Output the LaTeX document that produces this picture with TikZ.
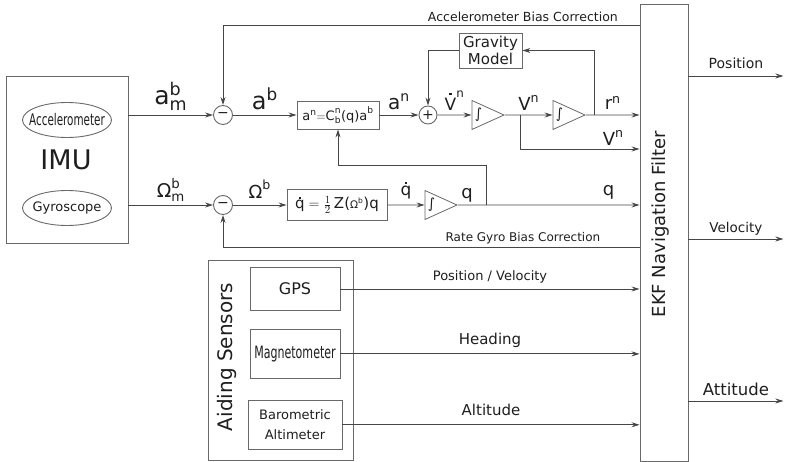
\documentclass[tikz,border=0pt]{standalone}
\usepackage{amsmath}
\usepackage{fontspec}
\setmainfont{DejaVu Sans}
\newfontfamily\narrowfont[FakeStretch=0.65]{DejaVu Sans}
\usetikzlibrary{arrows.meta, positioning, shapes.geometric, calc}

\definecolor{wire}{RGB}{70,70,70}
\definecolor{frame}{RGB}{105,105,105}
\definecolor{ink}{RGB}{30,30,30}
\newcommand{\fsz}[1]{\fontsize{#1}{#1}\selectfont}
% time derivative dot centred over a letter
\newcommand{\tdot}[2]{\ooalign{\hidewidth\raisebox{#2}{\rule{0.13em}{0.13em}}\hidewidth\cr#1\cr}}

\begin{document}
\begin{tikzpicture}[x=1pt, y=-1pt,
    box/.style={draw=frame, line width=0.9pt, inner sep=0pt, align=center, text=ink},
    sensor/.style={ellipse, draw=frame, line width=0.9pt, minimum width=89pt,
                   minimum height=35pt},
    sum/.style={circle, draw=frame, line width=0.9pt, minimum size=19pt,
                inner sep=0pt, font=\fsz{14}, text=ink},
    integ/.style={isosceles triangle, isosceles triangle stretches, draw=frame,
                  line width=0.8pt, minimum height=32pt, minimum width=29pt,
                  inner sep=0pt, font=\fsz{14}, text=ink},
    wire/.style={draw=wire, line width=0.9pt},
    sig/.style={inner sep=1pt, text=ink},
    note/.style={inner sep=1pt, text=ink},
    >={Stealth[length=8pt, width=5pt]}
  ]

  \useasboundingbox (0,0) rectangle (785,462);

  % IMU with its two sensors
  \node[box, minimum width=122pt, minimum height=167pt] (imu) at (67,159.5) {};
  \node[font=\fsz{27}, text=ink] (imutxt) at (66,160) {IMU};
  \node[sensor, label={[font=\narrowfont\fsz{16}, text=ink]center:Accelerometer}] (acc) at (67,120) {};
  \node[sensor, label={[font=\fsz{13}, text=ink]center:Gyroscope}] (gyro) at (67,208) {};

  % Accelerometer chain
  \node[sum] (suma) at (223,115) {−};
  \node[box, minimum width=82pt, minimum height=28pt, font=\fsz{13}] (rotm) at (338,115)
    {$\text{a}^{\text{n}}{=}\text{C}^{\text{n}}_{\text{b}}\text{(q)a}^{\text{b}}$};
  \node[sum, minimum size=18pt] (sumg) at (428,115) {+};
  \node[box, minimum width=63pt, minimum height=35pt, font=\fontsize{15}{17}\selectfont]
    (grav) at (490.5,50.5) {Gravity\\Model};
  \node[integ, anchor=apex] (inta) at (505,115) {∫};
  \node[integ, anchor=apex] (intb) at (586,115) {∫};

  % Gyro chain
  \node[sum] (sumb) at (223,205) {−};
  \node[box, minimum width=100pt, minimum height=31pt, font=\fsz{15}] (qkin) at (337,205)
    {$\text{\tdot{q}{0.66em}}=\tfrac{1}{2}\,\text{Z(}{\scriptstyle\text{Ω}^{\text{b}}}\text{)q}$};
  \node[integ, anchor=apex] (intc) at (458,205) {∫};

  % Navigation filter
  \node[box, minimum width=48pt, minimum height=457pt] (ekf) at (664,232.5) {};
  \node[rotate=90, font=\fsz{18}, text=ink] (ekftxt) at (661,224) {EKF Navigation Filter};

  % Aiding sensors
  \node[box, minimum width=145pt, minimum height=200pt] (aid) at (280.5,360) {};
  \node[rotate=90, font=\fsz{20}, text=ink] (aidtxt) at (227,357) {Aiding Sensors};
  \node[box, minimum width=90pt, minimum height=43pt, font=\fsz{16}] (gps) at (295,289) {GPS};
  \node[box, minimum width=90pt, minimum height=49pt, font=\narrowfont\fsz{17},
        below=18pt of gps] (mag) {Magnetometer};
  \node[box, minimum width=94pt, minimum height=49pt, font=\fontsize{13}{20}\selectfont,
        below=21pt of mag] (baro) {Barometric\\Altimeter};

  % Top row signals
  \draw[wire, ->] (imu.east |- suma) -- node[sig, above=3pt, font=\fsz{25}]
    {$\text{a}^{\text{b}}_{\text{m}}$} (suma);
  \draw[wire, ->] (suma) -- node[sig, above=4pt, font=\fsz{24}] {$\text{a}^{\text{b}}$} (rotm);
  \draw[wire, ->] (rotm) -- node[sig, above=4pt, font=\fsz{20}] {$\text{a}^{\text{n}}$} (sumg);
  \draw[wire, ->] (sumg) -- node[sig, above=3pt, font=\fsz{17}]
    {$\text{\tdot{V}{0.9em}}^{\text{n}}$} (inta);
  \draw[wire, ->] (inta) -- node[sig, above=3pt, font=\fsz{18}] {$\text{V}^{\text{n}}$} (intb);
  \draw[wire, ->] (intb) -- node[sig, above=4pt, font=\fsz{18}] {$\text{r}^{\text{n}}$} (intb -| ekf.west);
  \coordinate (vtap) at (520,115);
  \draw[wire, ->] (vtap) |- node[pos=0.89, sig, above=2pt, font=\fsz{18}]
    {$\text{V}^{\text{n}}$} (ekf.west |- 0,149);
  \coordinate (rtap) at (594,115);
  \draw[wire, ->] (rtap) |- (grav.east);
  \draw[wire, ->] (grav.west) -| (sumg);

  % Gyro row signals
  \draw[wire, ->] (imu.east |- sumb) -- node[sig, above=2pt, font=\fsz{19}]
    {$\text{Ω}^{\text{b}}_{\text{m}}$} (sumb);
  \draw[wire, ->] (sumb) -- node[sig, above=5pt, font=\fsz{18}] {$\text{Ω}^{\text{b}}$} (qkin);
  \draw[wire, ->] (qkin) -- node[sig, above=5pt, font=\fsz{17}]
    {$\text{\tdot{q}{0.66em}}$} (intc);
  \draw[wire, ->] (intc) -- node[pos=0.05, sig, above=1pt, font=\fsz{18}] {q}
    node[pos=0.83, sig, above=4pt, font=\fsz{18}] {q} (intc -| ekf.west);
  \coordinate (qtap) at (486,205);
  \draw[wire, ->] (qtap) |- (rotm.south |- 0,165) -- (rotm);

  % Bias corrections fed back from the filter
  \draw[wire, ->] (ekf.west |- 0,25) -| node[pos=0.14, note, above=2pt, font=\fsz{12.5}]
    {Accelerometer Bias Correction} (suma);
  \draw[wire, ->] (ekf.west |- 0,247) -| node[pos=0.14, note, above=2pt, font=\fsz{12}]
    {Rate Gyro Bias Correction} (sumb);

  % Aiding measurements
  \draw[wire, ->] (gps) -- node[note, above=4pt, font=\fsz{13}] {Position / Velocity} (gps -| ekf.west);
  \draw[wire, ->] (mag) -- node[note, above=5pt, font=\fsz{15}] {Heading} (mag -| ekf.west);
  \draw[wire, ->] (baro) -- node[note, above=8pt, font=\fsz{15}] {Altitude} (baro -| ekf.west);

  % Filter outputs
  \draw[wire, ->] (ekf.east |- 0,76) -- node[note, above=6pt, font=\fsz{14}] {Position} ++(95,0);
  \draw[wire, ->] (ekf.east |- 0,239) -- node[note, above=2pt, font=\fsz{13.5}] {Velocity} ++(95,0);
  \draw[wire, ->] (ekf.east |- 0,401) -- node[note, above=4pt, font=\fsz{16.5}] {Attitude} ++(95,0);

\end{tikzpicture}
\end{document}
